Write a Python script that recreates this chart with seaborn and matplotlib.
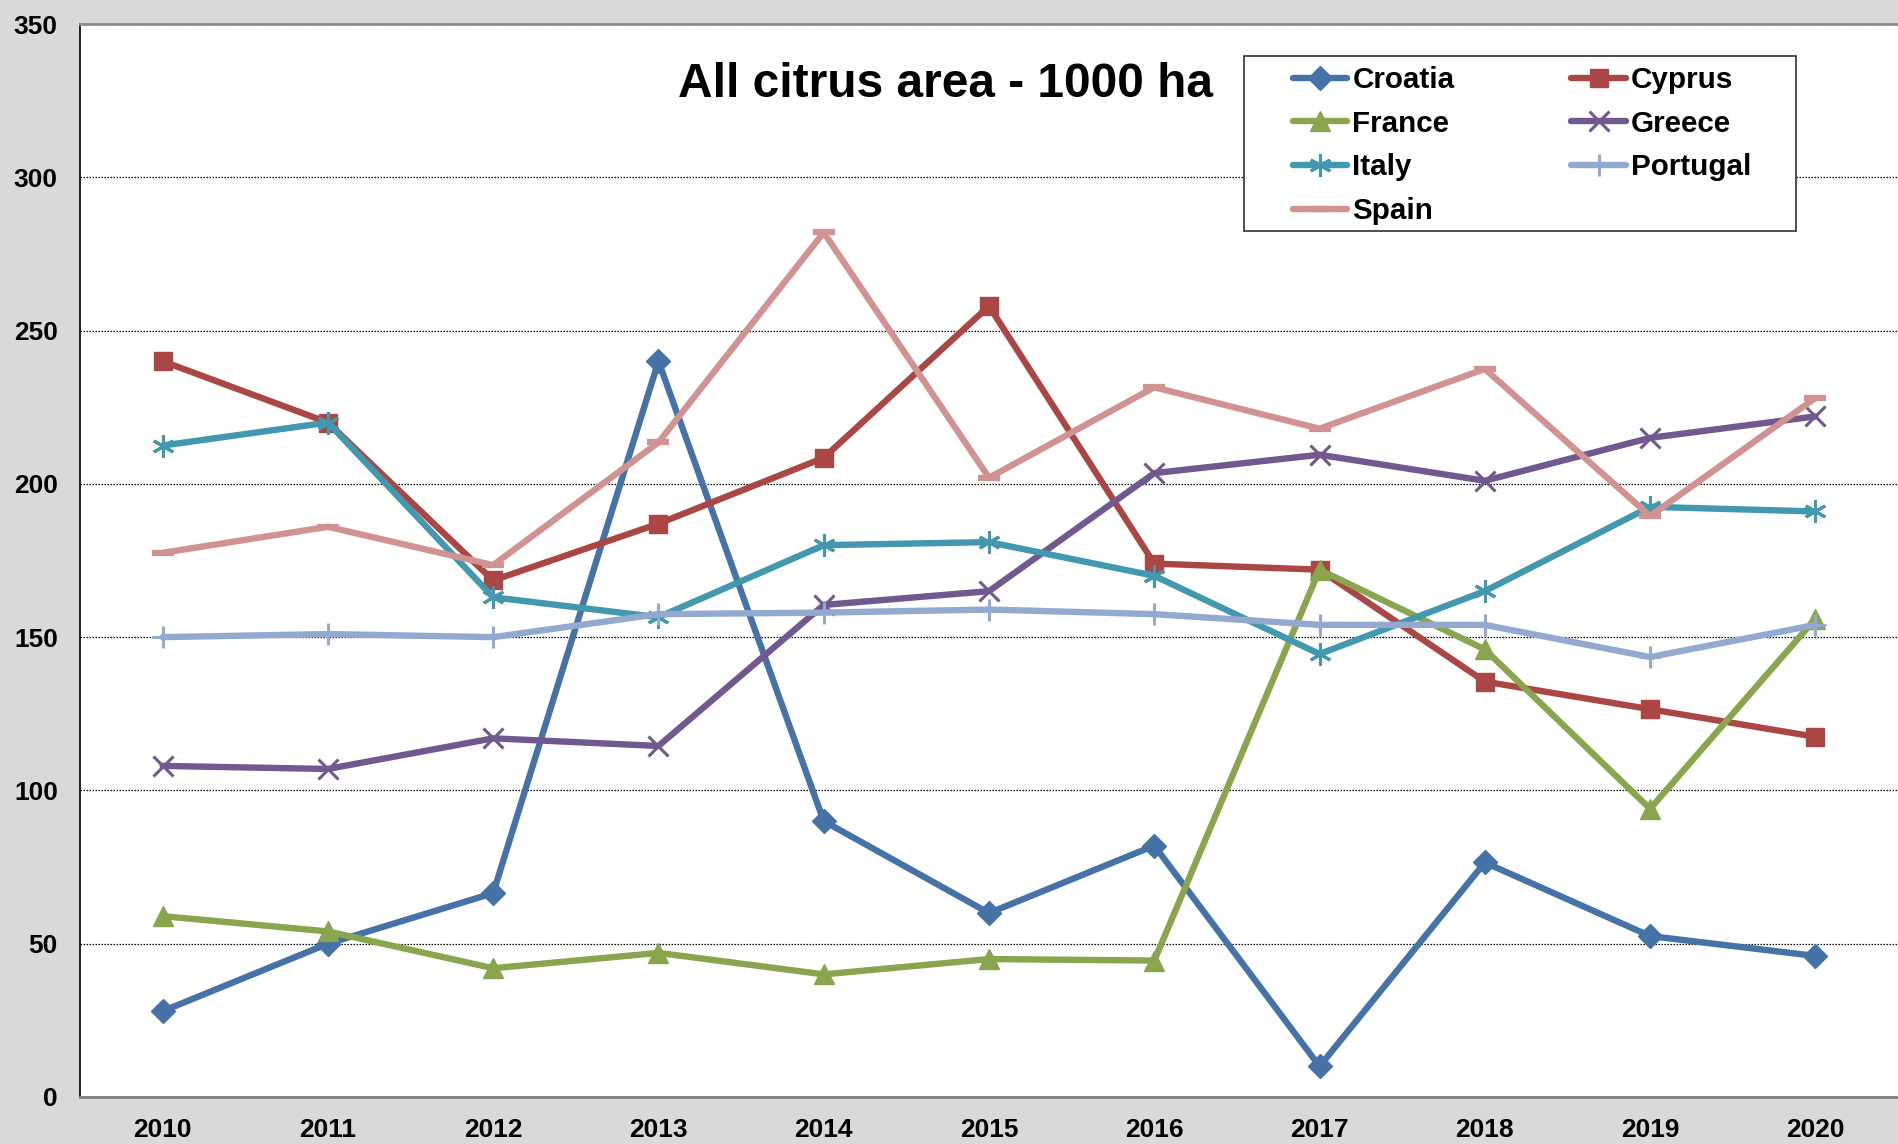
import matplotlib
matplotlib.use('Agg')
import matplotlib.pyplot as plt
from matplotlib.patches import Rectangle
import seaborn as sns
import pandas as pd
import numpy as np

# Data (1000 ha)
YEARS    = [2010, 2011, 2012, 2013, 2014, 2015, 2016, 2017, 2018, 2019, 2020]
croatia  = [28, 50, 66.5, 240, 90, 60, 82, 10, 76.5, 52.5, 46]
cyprus   = [240, 220, 168.5, 187, 208.5, 258, 174, 172, 135.5, 126.5, 117.5]
france   = [59, 54, 42, 47, 40, 45, 44.5, 172, 146, 94, 156]
greece   = [108, 107, 117, 114.5, 160.5, 165, 203.5, 209.5, 201, 215, 222]
italy    = [212.5, 220, 163, 156.5, 180, 181, 170, 144.5, 165, 192.5, 191]
portugal = [150, 151, 150, 157.5, 158, 159, 157.5, 154, 154, 143.5, 154]
spain    = [177.5, 186, 173.5, 213.5, 282, 202, 231.5, 218, 237.5, 189.5, 228]

COUNTRIES = ['Croatia', 'Cyprus', 'France', 'Greece', 'Italy', 'Portugal', 'Spain']
SERIES    = [croatia, cyprus, france, greece, italy, portugal, spain]
COLORS    = ['#4572A7', '#AA4643', '#89A54E', '#71588F', '#4198AF', '#93A9CF', '#D19392']
MARKERS   = ['D', 's', '^', 'x', (6, 2, 0), '+', '_']
MSIZES    = [12.5, 13.5, 14, 14, 16, 16, 16]
MEWS      = [1, 1, 1, 2.2, 2.2, 2.2, 4.5]

df = pd.DataFrame({'year': np.tile(YEARS, len(COUNTRIES)),
                   'country': np.repeat(COUNTRIES, len(YEARS)),
                   'value': np.concatenate(SERIES)})

# %%
sns.set_style('white')
plt.rcParams['font.family'] = ['Liberation Sans', 'DejaVu Sans']
plt.rcParams['font.weight'] = 'bold'
plt.rcParams['text.color'] = 'black'
plt.rcParams['xtick.color'] = 'black'
plt.rcParams['ytick.color'] = 'black'

W, H = 1898, 1144
fig = plt.figure(figsize=(W / 100, H / 100), dpi=100, facecolor='#d9d9d9')
ax = fig.add_axes([80 / W, 1 - 1097 / H, 1 - 80 / W, (1097 - 24) / H])
ax.set_facecolor('white')

for name, col, mk, ms, mew in zip(COUNTRIES, COLORS, MARKERS, MSIZES, MEWS):
    sub = df[df['country'] == name]
    sns.lineplot(data=sub, x='year', y='value', ax=ax, color=col, lw=4.6,
                 marker=mk, markersize=ms, markeredgewidth=mew,
                 markeredgecolor=col, markerfacecolor=col,
                 errorbar=None, label=name)

ax.set_xlim(2009.5, 2020.5)
ax.set_ylim(0, 350)
ax.set_yticks(range(0, 351, 50))
ax.set_xticks(YEARS)
ax.set_xticks(np.arange(2009.5, 2021, 1), minor=True)
ax.set_xlabel('')
ax.set_ylabel('')

ax.tick_params(axis='x', which='major', length=0, pad=15, labelsize=19, labelcolor='black')
ax.tick_params(axis='x', which='minor', length=8, width=1.2, color='#333333', direction='out')
ax.tick_params(axis='y', which='major', length=7, width=1, color='black', direction='out',
               pad=9, labelsize=19, labelcolor='black')
for lab in ax.get_xticklabels() + ax.get_yticklabels():
    lab.set_fontweight('bold')

ax.yaxis.grid(True, color='black', lw=0.9, linestyle=(0, (1.2, 1.2)))
ax.xaxis.grid(False)
ax.set_axisbelow(True)

ax.spines['left'].set_color('black')
ax.spines['left'].set_linewidth(1.2)
ax.spines['bottom'].set_color('#808080')
ax.spines['bottom'].set_linewidth(2)
ax.spines['top'].set_color('#8c8c8c')
ax.spines['top'].set_linewidth(2)
ax.spines['right'].set_visible(False)

ax.text(0.476, 0.932, 'All citrus area - 1000 ha', transform=ax.transAxes,
        ha='center', va='baseline', fontsize=34.5, fontweight='bold', color='black')

# legend: frame drawn separately so the inner padding can match the reference
ax.add_patch(Rectangle((1244 / W, 1 - 231 / H), 552 / W, 175 / H,
                       transform=fig.transFigure, facecolor='white',
                       edgecolor='#404040', lw=1.3, zorder=5, clip_on=False))
handles, labels = ax.get_legend_handles_labels()
order = [0, 2, 4, 6, 1, 3, 5]
leg = ax.legend([handles[i] for i in order], [labels[i] for i in order],
                ncol=2, loc='upper left', bbox_to_anchor=(1293 / W, 1 - 66 / H),
                bbox_transform=fig.transFigure, borderaxespad=0, borderpad=0,
                prop={'size': 21.3, 'weight': 'bold'}, handlelength=1.84,
                handletextpad=0.17, columnspacing=3.95, labelspacing=0.53,
                frameon=False)
leg.set_zorder(6)
for t in leg.get_texts():
    t.set_color('black')

fig.savefig('out.png', dpi=100, facecolor=fig.get_facecolor())
